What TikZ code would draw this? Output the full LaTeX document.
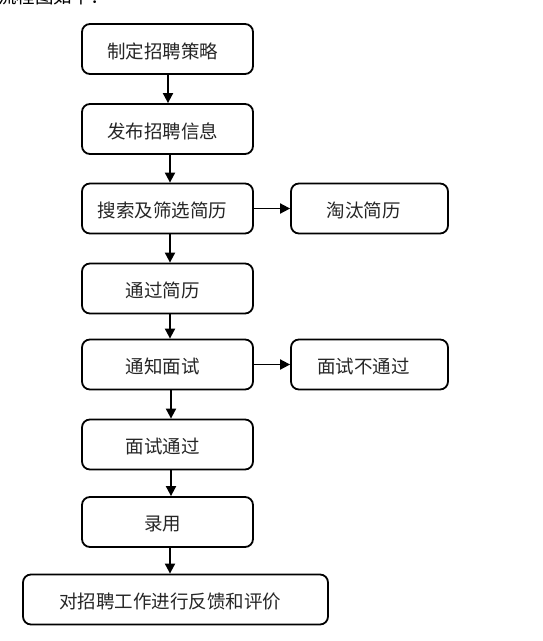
\documentclass[tikz,border=0pt]{standalone}
\usepackage{fontspec}
\newfontfamily\cjk{Noto Sans CJK SC}
\usetikzlibrary{arrows.meta}
\tikzset{
  box/.style={draw=black, line width=1.8pt, rounded corners=8pt, minimum height=50pt, inner sep=0pt},
  lbl/.style={font=\cjk\fontsize{18.5pt}{20pt}\selectfont, inner sep=0pt, text=black!85},
  arr/.style={line width=1.8pt, -{Triangle[length=10pt,width=10pt]}},
}
\begin{document}
\begin{tikzpicture}[x=1pt,y=-1pt]
\useasboundingbox (0,0) rectangle (543,641);
\clip (0,0) rectangle (543,641);
\fill[white] (0,0) rectangle (543,641);
% cut-off heading
\node[font=\cjk\fontsize{18.5pt}{20pt}\selectfont, inner sep=0pt, anchor=base west] (head) at (-2,3) {流程图如下：};
% main column
\node[box, minimum width=171pt] (b1) at (167.5,49) {};
\node[box, minimum width=171pt] (b2) at (167.5,129) {};
\node[box, minimum width=171pt] (b3) at (167.5,208.5) {};
\node[box, minimum width=157pt] (r1) at (369.5,208.5) {};
\node[box, minimum width=171pt] (b4) at (167.5,288.5) {};
\node[box, minimum width=171pt] (b5) at (167.5,364.5) {};
\node[box, minimum width=157pt] (r2) at (369.5,364.5) {};
\node[box, minimum width=171pt] (b6) at (167.5,444.5) {};
\node[box, minimum width=171pt] (b7) at (167.5,522) {};
\node[box, minimum width=305pt] (b8) at (175.5,599.5) {};
% labels
\node[lbl] (t1) at ([xshift=-5pt,yshift=-2pt]b1.center) {制定招聘策略};
\node[lbl] (t2) at ([xshift=-5pt,yshift=-2pt]b2.center) {发布招聘信息};
\node[lbl] (t3) at ([xshift=-5pt,yshift=-2pt]b3.center) {搜索及筛选简历};
\node[lbl] (tr1) at ([xshift=-6pt,yshift=-2pt]r1.center) {淘汰简历};
\node[lbl] (t4) at ([xshift=-5pt,yshift=-2pt]b4.center) {通过简历};
\node[lbl] (t5) at ([xshift=-5pt,yshift=-2pt]b5.center) {通知面试};
\node[lbl] (tr2) at ([xshift=-6pt,yshift=-2pt]r2.center) {面试不通过};
\node[lbl] (t6) at ([xshift=-5pt,yshift=-2pt]b6.center) {面试通过};
\node[lbl] (t7) at ([xshift=-5pt,yshift=-2pt]b7.center) {录用};
\node[lbl] (t8) at ([xshift=-5pt,yshift=-2pt]b8.center) {对招聘工作进行反馈和评价};
% connectors
\draw[arr] ([xshift=0.5pt]b1.south) -- ([xshift=0.5pt]b2.north);
\draw[arr] ([xshift=2.5pt]b2.south) -- ([xshift=2.5pt]b3.north);
\draw[arr] ([xshift=2.5pt]b3.south) -- ([xshift=2.5pt]b4.north);
\draw[arr] ([xshift=2.5pt]b4.south) -- ([xshift=2.5pt]b5.north);
\draw[arr] ([xshift=3.5pt]b5.south) -- ([xshift=3.5pt]b6.north);
\draw[arr] ([xshift=3.5pt]b6.south) -- ([xshift=3.5pt]b7.north);
\draw[arr] ([xshift=2.5pt]b7.south) -- ([xshift=-5.5pt]b8.north);
\draw[arr] (b3.east) -- (r1.west);
\draw[arr] (b5.east) -- (r2.west);
\end{tikzpicture}
\end{document}
